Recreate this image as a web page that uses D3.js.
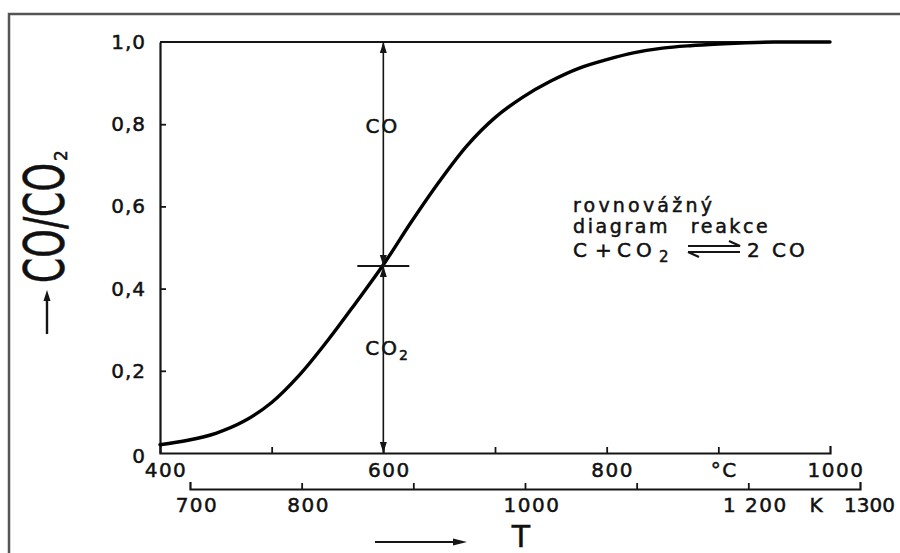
<!DOCTYPE html>
<html>
<head>
<meta charset="utf-8">
<script src="https://cdn.jsdelivr.net/npm/d3@7"></script>
<style>
  html, body { margin: 0; padding: 0; background: #fff; }
  svg { display: block; }
  text { font-family: "DejaVu Sans", sans-serif; fill: #111; }
</style>
</head>
<body>
<div id="chart"></div>
<script>
// equilibrium CO/(CO+CO2) vs temperature
var tempC = [400, 425, 450, 475, 500, 525, 550, 575, 600, 625, 650, 675, 700,
             725, 750, 775, 800, 825, 850, 875, 900, 925, 950, 975, 1000];
var ratioCO = [0.02, 0.031, 0.048, 0.077, 0.123, 0.19, 0.273, 0.364, 0.458, 0.562, 0.66, 0.748, 0.816,
               0.866, 0.905, 0.936, 0.957, 0.974, 0.985, 0.991, 0.995, 0.998, 1.0, 1.0, 1.0];

// axis ticks / labels
var yTicks = [0.2, 0.4, 0.6, 0.8];
var yLabelValues = [0, 0.2, 0.4, 0.6, 0.8, 1.0];
var yLabels = ["0", "0,2", "0,4", "0,6", "0,8", "1,0"];
var cTicks = [500, 600, 700, 800, 900];
var cLabelValues = [400, 600, 800, 900, 1000];
var cLabels = ["400", "600", "800", "°C", "1000"];
var kTicks = [800, 900, 1000, 1100, 1200];
var kLabelValues = [700, 800, 1000, 1200, 1255, 1300];
var kLabels = ["700", "800", "1000", "1 200", "K", "1300"];

// the marked example point (600 °C)
var markT = 600, markV = 0.455;

var W = 900, H = 553;
var svg = d3.select("#chart").append("svg")
    .attr("width", W)
    .attr("height", H);

// outer frame (runs off the right/bottom edge)
svg.append("rect")
    .attr("x", 9).attr("y", 14)
    .attr("width", 920).attr("height", 600)
    .attr("fill", "none")
    .attr("stroke", "#555")
    .attr("stroke-width", 2.5);

var x = d3.scaleLinear().domain([400, 1000]).range([160, 830]);
var xK = d3.scaleLinear().domain([700, 1300]).range([x(426.85), x(1026.85)]);
var y = d3.scaleLinear().domain([0, 1]).range([453, 42]);

var ink = "#151515";

function inked(sel) {
    // scanned lettering is a bit heavier than the plain font
    return sel.style("stroke", "#111").style("stroke-width", "0.5px");
}

// celsius axis (ticks point up into the plot)
svg.append("g")
    .attr("transform", "translate(0," + y(0) + ")")
    .call(d3.axisBottom(x).tickValues(cTicks).tickSizeInner(-6).tickSizeOuter(-7).tickFormat(""))
    .call(function(g) {
        g.select(".domain").attr("stroke", ink).attr("stroke-width", 2.2);
        g.selectAll(".tick line").attr("stroke", ink).attr("stroke-width", 1.8);
    });

svg.append("g").selectAll("text")
    .data(cLabelValues)
  .enter().append("text")
    .attr("x", function(d) { return x(d) + 6; })
    .attr("y", 477)
    .attr("text-anchor", "middle")
    .style("font-size", "20px")
    .style("letter-spacing", "1.5px")
    .call(inked)
    .text(function(d, i) { return cLabels[i]; });

// kelvin axis
svg.append("g")
    .attr("transform", "translate(0,489)")
    .call(d3.axisBottom(xK).tickValues(kTicks).tickSizeInner(-6).tickSizeOuter(-7).tickFormat(""))
    .call(function(g) {
        g.select(".domain").attr("stroke", ink).attr("stroke-width", 2.2);
        g.selectAll(".tick line").attr("stroke", ink).attr("stroke-width", 1.8);
    });

svg.append("g").selectAll("text")
    .data(kLabelValues)
  .enter().append("text")
    .attr("x", function(d, i) { return kLabels[i] === "1300" ? xK(d) - 16 : xK(d) + 7; })
    .attr("y", 512)
    .attr("text-anchor", function(d, i) { return kLabels[i] === "1300" ? "start" : "middle"; })
    .style("font-size", "20px")
    .style("letter-spacing", function(d, i) { return kLabels[i] === "1300" ? "0px" : "1.5px"; })
    .call(inked)
    .text(function(d, i) { return kLabels[i]; });

// y axis (ticks point right)
svg.append("g")
    .attr("transform", "translate(" + x(400) + ",0)")
    .call(d3.axisRight(y).tickValues(yTicks).tickSizeInner(6).tickSizeOuter(0).tickFormat(""))
    .call(function(g) {
        g.select(".domain").attr("stroke", ink).attr("stroke-width", 2.2);
        g.selectAll(".tick line").attr("stroke", ink).attr("stroke-width", 1.8);
    });

svg.append("g").selectAll("text")
    .data(yLabelValues)
  .enter().append("text")
    .attr("x", 146)
    .attr("y", function(d) { return y(d) + (d === 0 ? 10 : 7); })
    .attr("text-anchor", "end")
    .style("font-size", "20px")
    .style("letter-spacing", "1px")
    .call(inked)
    .text(function(d, i) { return yLabels[i]; });

// top line at 1,0
svg.append("line")
    .attr("x1", x(400)).attr("x2", x(1000))
    .attr("y1", y(1)).attr("y2", y(1))
    .attr("stroke", ink)
    .attr("stroke-width", 2);

// equilibrium curve
var line = d3.line()
    .x(function(d, i) { return x(tempC[i]); })
    .y(function(d) { return y(d); })
    .curve(d3.curveCatmullRom.alpha(0.5));

svg.append("path")
    .datum(ratioCO)
    .attr("d", line)
    .attr("fill", "none")
    .attr("stroke", "#000")
    .attr("stroke-width", 3.4)
    .attr("stroke-linecap", "round");

// vertical double arrow at 600 °C
var mx = x(markT), my = y(markV);
svg.append("line")
    .attr("x1", mx).attr("x2", mx)
    .attr("y1", y(1)).attr("y2", y(0))
    .attr("stroke", ink)
    .attr("stroke-width", 1.6);

svg.append("line")
    .attr("x1", mx - 26).attr("x2", mx + 26)
    .attr("y1", my).attr("y2", my)
    .attr("stroke", ink)
    .attr("stroke-width", 1.8);

function arrowHead(tx, ty, dir) {
    // dir: -1 points up, +1 points down
    var len = 11, half = 3.5;
    return "M" + tx + "," + ty +
        "L" + (tx - half) + "," + (ty - dir * len) +
        "L" + (tx + half) + "," + (ty - dir * len) + "Z";
}
var heads = [[mx, y(1), -1], [mx, my, 1], [mx, my, -1], [mx, y(0), 1]];
svg.append("g").selectAll("path")
    .data(heads)
  .enter().append("path")
    .attr("d", function(d) { return arrowHead(d[0], d[1], d[2]); })
    .attr("fill", ink);

svg.append("text")
    .attr("x", mx - 1).attr("y", 133)
    .attr("text-anchor", "middle")
    .style("font-size", "20px")
    .style("letter-spacing", "2px")
    .call(inked)
    .text("CO");

var co2 = svg.append("text")
    .attr("x", mx - 18).attr("y", 355)
    .style("font-size", "20px")
    .style("letter-spacing", "2px")
    .call(inked);
co2.append("tspan").text("CO");
co2.append("tspan").attr("dy", 5).style("font-size", "14px").text("2");

// legend / note
svg.append("text")
    .attr("x", 573).attr("y", 212)
    .style("font-size", "19px")
    .style("letter-spacing", "3.2px")
    .call(inked)
    .text("rovnovážný");

svg.append("text")
    .attr("x", 573).attr("y", 233)
    .style("font-size", "19px")
    .style("letter-spacing", "2.6px")
    .style("word-spacing", "12px")
    .call(inked)
    .text("diagram reakce");

var eq = svg.append("text")
    .attr("y", 257)
    .style("font-size", "20px")
    .style("letter-spacing", "3px")
    .call(inked);
eq.append("tspan").attr("x", 573).text("C");
eq.append("tspan").attr("x", 595).text("+");
eq.append("tspan").attr("x", 617).style("letter-spacing", "5px").text("CO");
eq.append("tspan").attr("x", 659).attr("dy", 5).style("font-size", "15px").text("2");
eq.append("tspan").attr("x", 747).attr("dy", -5).text("2 CO");

// equilibrium half-arrows
svg.append("path")
    .attr("d", "M688,246 L740,246 L729,241 M688,252 L740,252 M688,252 L699,257")
    .attr("fill", "none")
    .attr("stroke", ink)
    .attr("stroke-width", 2.2);

// y axis title (rotated, condensed)
var yt = svg.append("g").attr("transform", "translate(63,283) rotate(-90)");
yt.append("text")
    .attr("x", 0).attr("y", 0)
    .attr("textLength", 120)
    .attr("lengthAdjust", "spacingAndGlyphs")
    .style("font-size", "55px")
    .call(inked)
    .text("CO/CO");
yt.append("text")
    .attr("x", 122).attr("y", 4)
    .style("font-size", "17px")
    .call(inked)
    .text("2");

// arrow under the y title
svg.append("line")
    .attr("x1", 47).attr("x2", 47)
    .attr("y1", 334).attr("y2", 298)
    .attr("stroke", ink).attr("stroke-width", 2.4);
svg.append("path")
    .attr("d", arrowHead(47, 290, -1))
    .attr("fill", ink);

// x title: arrow and T
svg.append("line")
    .attr("x1", 375).attr("x2", 456)
    .attr("y1", 542).attr("y2", 542)
    .attr("stroke", ink).attr("stroke-width", 2.2);
svg.append("path")
    .attr("d", "M467,542 L453,538.5 L453,545.5 Z")
    .attr("fill", ink);

svg.append("text")
    .attr("x", 521).attr("y", 547)
    .attr("text-anchor", "middle")
    .style("font-size", "30px")
    .call(inked)
    .text("T");
</script>
</body>
</html>
